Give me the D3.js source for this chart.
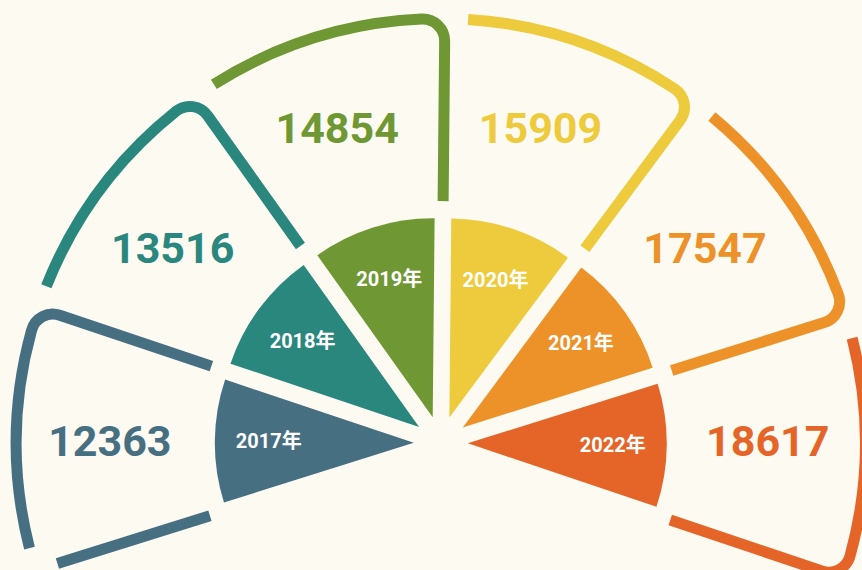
<!DOCTYPE html>
<html>
<head>
<meta charset="utf-8">
<script src="https://cdn.jsdelivr.net/npm/d3@7"></script>
<style>
  html, body { margin: 0; padding: 0; background: #fdfaf2; }
  svg { display: block; }
  text { font-family: Roboto, "Noto Sans CJK SC", sans-serif; font-weight: 700; }
</style>
</head>
<body>
<div id="chart"></div>
<script>
// data
var years  = ["2017年", "2018年", "2019年", "2020年", "2021年", "2022年"];
var values = [12363, 13516, 14854, 15909, 17547, 18617];
var colors = ["#476f82", "#2a877e", "#6f9834", "#eeca3d", "#ed9229", "#e56529"];

var width = 862, height = 570;
var cx = 440.8, cy = 443.1;
var rot = 0.55 * Math.PI / 180;   // whole fan is turned a little clockwise
var pieR = 199, explode = 27;
var rIn = 242, rOut = 424.5, rc = 22;

var svg = d3.select("#chart")
    .append("svg")
    .attr("width", width)
    .attr("height", height);

svg.append("rect")
    .attr("width", width)
    .attr("height", height)
    .attr("fill", "#fdfaf2");

var chart = svg.append("g")
    .attr("transform", "translate(" + cx + "," + cy + ")");

// one 36deg band per year, fan spans -108deg .. 108deg
var angle = d3.scaleBand()
    .domain(years)
    .range([-0.6 * Math.PI + rot, 0.6 * Math.PI + rot])
    .padding(0);
var bw = angle.bandwidth();

var color = d3.scaleOrdinal().domain(years).range(colors);

function pt(r, a) { return [r * Math.sin(a), -r * Math.cos(a)]; }

// outer rounded outline: arc + end corner + end edge (start corner left open)
function outline(d, i) {
    var a0 = angle(d), a1 = a0 + bw;
    var delta = Math.asin(rc / (rOut - rc));
    var L = Math.sqrt((rOut - rc) * (rOut - rc) - rc * rc);
    var p = d3.path();
    if (i === 0) {
        var s0 = pt(rIn, a0), s1 = pt(L, a0);
        p.moveTo(s0[0], s0[1]);
        p.lineTo(s1[0], s1[1]);
    }
    var s = pt(rOut, a0 + delta);
    p.moveTo(s[0], s[1]);
    p.arc(0, 0, rOut, a0 + delta - Math.PI / 2, a1 - delta - Math.PI / 2, false);
    var q = pt(rOut - rc, a1 - delta);
    p.arc(q[0], q[1], rc, a1 - delta - Math.PI / 2, a1, false);
    var e = pt(rIn, a1);
    p.lineTo(e[0], e[1]);
    return p.toString();
}

chart.selectAll(".outline")
    .data(years)
    .enter()
    .append("path")
    .attr("class", "outline")
    .attr("d", outline)
    .attr("fill", "none")
    .attr("stroke", d => color(d))
    .attr("stroke-width", 11)
    .attr("stroke-linecap", "butt")
    .attr("stroke-linejoin", "round");

// inner exploded sectors
var arc = d3.arc()
    .innerRadius(0)
    .outerRadius(pieR)
    .startAngle(d => angle(d))
    .endAngle(d => angle(d) + bw);

chart.selectAll(".slice")
    .data(years)
    .enter()
    .append("path")
    .attr("class", "slice")
    .attr("d", arc)
    .attr("fill", d => color(d))
    .attr("transform", function(d) {
        var m = angle(d) + bw / 2, o = pt(explode, m);
        return "translate(" + o[0] + "," + o[1] + ")";
    });

// year labels inside sectors
chart.selectAll(".year")
    .data(years)
    .enter()
    .append("text")
    .attr("class", "year")
    .attr("x", d => pt(172, angle(d) + bw / 2)[0])
    .attr("y", d => pt(172, angle(d) + bw / 2)[1])
    .attr("dy", "0.35em")
    .attr("text-anchor", "middle")
    .attr("fill", "#ffffff")
    .attr("font-size", 20)
    .text(d => d);

// value labels in the outer band
chart.selectAll(".value")
    .data(years)
    .enter()
    .append("text")
    .attr("class", "value")
    .attr("x", d => pt(329, angle(d) + bw / 2 - rot)[0] - 2)
    .attr("y", d => pt(329, angle(d) + bw / 2 - rot)[1] - 2)
    .attr("dy", "0.35em")
    .attr("text-anchor", "middle")
    .attr("fill", d => color(d))
    .attr("font-size", 43)
    .text((d, i) => values[i]);
</script>
</body>
</html>
